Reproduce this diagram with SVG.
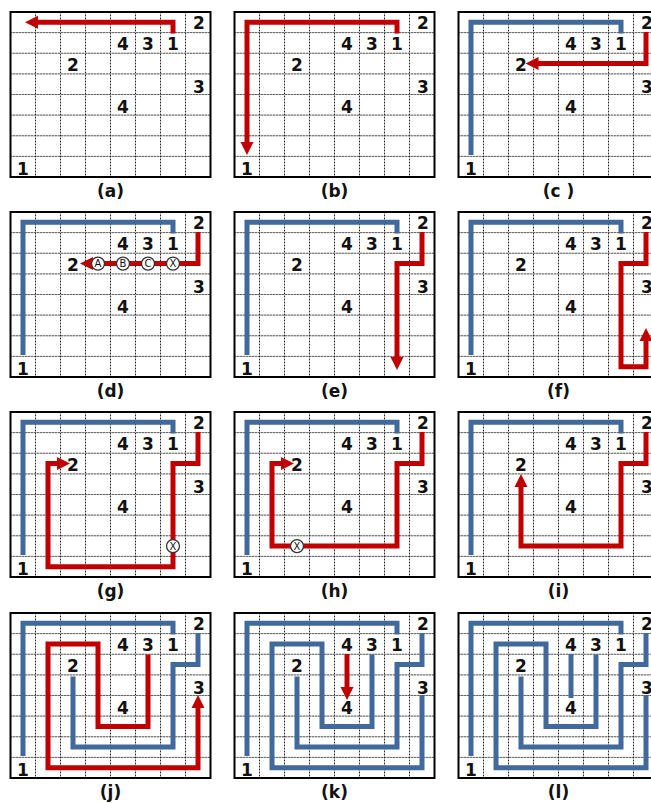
<svg xmlns="http://www.w3.org/2000/svg" xmlns:xlink="http://www.w3.org/1999/xlink" width="651" height="803" viewBox="0 0 651 803">
<style>
.gb{stroke:#a8a8a8;stroke-width:1;fill:none}
.gd{stroke:#222;stroke-width:1;stroke-dasharray:1 2;fill:none}
.box{fill:none;stroke:#000;stroke-width:2}
.red{fill:none;stroke:#C00000;stroke-width:5;stroke-linejoin:miter}
.blue{fill:none;stroke:#41699B;stroke-width:5;stroke-linejoin:miter}
.arr{marker-end:url(#ah)}
.num{font-family:"DejaVu Sans","Liberation Sans",sans-serif;font-weight:bold;font-size:17px;fill:#111;text-anchor:middle}
.cap{font-family:"DejaVu Sans","Liberation Sans",sans-serif;font-weight:bold;font-size:17px;fill:#111;text-anchor:middle}
.cc{fill:#fff;stroke:#333;stroke-width:1.3}
.ct{font-family:"DejaVu Sans","Liberation Sans",sans-serif;font-size:10px;fill:#111;text-anchor:middle}
</style>
<defs>
<marker id="ah" markerUnits="userSpaceOnUse" markerWidth="14" markerHeight="14" refX="2" refY="6.5" orient="auto" overflow="visible"><path d="M0,0 L13,6.5 L0,13 z" fill="#C00000"/></marker>
<g id="grid">
<rect x="0" y="0" width="200" height="165" fill="#fff"/>
<path class="gb" d="M25,0V165M50,0V165M75,0V165M100,0V165M125,0V165M150,0V165M175,0V165M0,20.6H200M0,41.25H200M0,61.9H200M0,82.5H200M0,103.1H200M0,123.75H200M0,144.4H200"/>
<path class="gd" d="M25,0V165M50,0V165M75,0V165M100,0V165M125,0V165M150,0V165M175,0V165M0,20.6H200M0,41.25H200M0,61.9H200M0,82.5H200M0,103.1H200M0,123.75H200M0,144.4H200"/>
<rect class="box" x="0" y="0" width="200" height="165"/>
</g>
</defs>
<rect width="651" height="803" fill="#fff"/>

<g id="panel-a" transform="translate(10.5,12)">
<use xlink:href="#grid"/>
<g id="conn-a"><path class="red arr" d="M162.5,21.5V10.3H25.5"/></g>
<g id="nums-a"><text class="num" x="188.5" y="16.5">2</text><text class="num" x="112.5" y="37.5">4</text><text class="num" x="137.5" y="37.5">3</text><text class="num" x="162.5" y="37.5">1</text><text class="num" x="62.5" y="59">2</text><text class="num" x="188.5" y="80.5">3</text><text class="num" x="112.5" y="100.5">4</text><text class="num" x="12.5" y="162.5">1</text></g>
<text class="cap" x="100" y="184.5">(a)</text>
</g>

<g id="panel-b" transform="translate(234.5,12)">
<use xlink:href="#grid"/>
<g id="conn-b"><path class="red arr" d="M162.5,21.5V10.3H12.5V132"/></g>
<g id="nums-b"><text class="num" x="188.5" y="16.5">2</text><text class="num" x="112.5" y="37.5">4</text><text class="num" x="137.5" y="37.5">3</text><text class="num" x="162.5" y="37.5">1</text><text class="num" x="62.5" y="59">2</text><text class="num" x="188.5" y="80.5">3</text><text class="num" x="112.5" y="100.5">4</text><text class="num" x="12.5" y="162.5">1</text></g>
<text class="cap" x="100" y="184.5">(b)</text>
</g>

<g id="panel-c" transform="translate(458.5,12)">
<use xlink:href="#grid"/>
<g id="conn-c"><path class="blue" d="M162.5,21.5V10.3H12.5V143"/><path class="red arr" d="M187.5,20V51.6H78"/></g>
<g id="nums-c"><text class="num" x="188.5" y="16.5">2</text><text class="num" x="112.5" y="37.5">4</text><text class="num" x="137.5" y="37.5">3</text><text class="num" x="162.5" y="37.5">1</text><text class="num" x="62.5" y="59">2</text><text class="num" x="188.5" y="80.5">3</text><text class="num" x="112.5" y="100.5">4</text><text class="num" x="12.5" y="162.5">1</text></g>
<text class="cap" x="100" y="184.5">(c )</text>
</g>

<g id="panel-d" transform="translate(10.5,212)">
<use xlink:href="#grid"/>
<g id="conn-d"><path class="blue" d="M162.5,21.5V10.3H12.5V143"/><path class="red arr" d="M187.5,20V51.6H80.5"/></g>
<g id="marks-d">
<circle class="cc" cx="87.5" cy="51.6" r="6.5"/><text class="ct" x="87.5" y="55.2">A</text>
<circle class="cc" cx="112.5" cy="51.6" r="6.5"/><text class="ct" x="112.5" y="55.2">B</text>
<circle class="cc" cx="137.5" cy="51.6" r="6.5"/><text class="ct" x="137.5" y="55.2">C</text>
<circle class="cc" cx="162.5" cy="51.6" r="6.5"/><text class="ct" x="162.5" y="55.2">X</text>
</g>
<g id="nums-d"><text class="num" x="188.5" y="16.5">2</text><text class="num" x="112.5" y="37.5">4</text><text class="num" x="137.5" y="37.5">3</text><text class="num" x="162.5" y="37.5">1</text><text class="num" x="62.5" y="59">2</text><text class="num" x="188.5" y="80.5">3</text><text class="num" x="112.5" y="100.5">4</text><text class="num" x="12.5" y="162.5">1</text></g>
<text class="cap" x="100" y="184.5">(d)</text>
</g>

<g id="panel-e" transform="translate(234.5,212)">
<use xlink:href="#grid"/>
<g id="conn-e"><path class="blue" d="M162.5,21.5V10.3H12.5V143"/><path class="red arr" d="M187.5,20V51.6H162.5V147"/></g>
<g id="nums-e"><text class="num" x="188.5" y="16.5">2</text><text class="num" x="112.5" y="37.5">4</text><text class="num" x="137.5" y="37.5">3</text><text class="num" x="162.5" y="37.5">1</text><text class="num" x="62.5" y="59">2</text><text class="num" x="188.5" y="80.5">3</text><text class="num" x="112.5" y="100.5">4</text><text class="num" x="12.5" y="162.5">1</text></g>
<text class="cap" x="100" y="184.5">(e)</text>
</g>

<g id="panel-f" transform="translate(458.5,212)">
<use xlink:href="#grid"/>
<g id="conn-f"><path class="blue" d="M162.5,21.5V10.3H12.5V143"/><path class="red arr" d="M187.5,20V51.6H162.5V154.7H187.5V127"/></g>
<g id="nums-f"><text class="num" x="188.5" y="16.5">2</text><text class="num" x="112.5" y="37.5">4</text><text class="num" x="137.5" y="37.5">3</text><text class="num" x="162.5" y="37.5">1</text><text class="num" x="62.5" y="59">2</text><text class="num" x="188.5" y="80.5">3</text><text class="num" x="112.5" y="100.5">4</text><text class="num" x="12.5" y="162.5">1</text></g>
<text class="cap" x="100" y="184.5">(f)</text>
</g>

<g id="panel-g" transform="translate(10.5,412)">
<use xlink:href="#grid"/>
<g id="conn-g"><path class="blue" d="M162.5,21.5V10.3H12.5V143"/><path class="red arr" d="M187.5,20V51.6H162.5V154.7H37.5V51.6H48.5"/></g>
<g id="marks-g"><circle class="cc" cx="162.5" cy="134.1" r="6.5"/><text class="ct" x="162.5" y="137.7">X</text></g>
<g id="nums-g"><text class="num" x="188.5" y="16.5">2</text><text class="num" x="112.5" y="37.5">4</text><text class="num" x="137.5" y="37.5">3</text><text class="num" x="162.5" y="37.5">1</text><text class="num" x="62.5" y="59">2</text><text class="num" x="188.5" y="80.5">3</text><text class="num" x="112.5" y="100.5">4</text><text class="num" x="12.5" y="162.5">1</text></g>
<text class="cap" x="100" y="184.5">(g)</text>
</g>

<g id="panel-h" transform="translate(234.5,412)">
<use xlink:href="#grid"/>
<g id="conn-h"><path class="blue" d="M162.5,21.5V10.3H12.5V143"/><path class="red arr" d="M187.5,20V51.6H162.5V134.1H37.5V51.6H48.5"/></g>
<g id="marks-h"><circle class="cc" cx="62.5" cy="134.1" r="6.5"/><text class="ct" x="62.5" y="137.7">X</text></g>
<g id="nums-h"><text class="num" x="188.5" y="16.5">2</text><text class="num" x="112.5" y="37.5">4</text><text class="num" x="137.5" y="37.5">3</text><text class="num" x="162.5" y="37.5">1</text><text class="num" x="62.5" y="59">2</text><text class="num" x="188.5" y="80.5">3</text><text class="num" x="112.5" y="100.5">4</text><text class="num" x="12.5" y="162.5">1</text></g>
<text class="cap" x="100" y="184.5">(h)</text>
</g>

<g id="panel-i" transform="translate(458.5,412)">
<use xlink:href="#grid"/>
<g id="conn-i"><path class="blue" d="M162.5,21.5V10.3H12.5V143"/><path class="red arr" d="M187.5,20V51.6H162.5V134.1H62.5V73"/></g>
<g id="nums-i"><text class="num" x="188.5" y="16.5">2</text><text class="num" x="112.5" y="37.5">4</text><text class="num" x="137.5" y="37.5">3</text><text class="num" x="162.5" y="37.5">1</text><text class="num" x="62.5" y="59">2</text><text class="num" x="188.5" y="80.5">3</text><text class="num" x="112.5" y="100.5">4</text><text class="num" x="12.5" y="162.5">1</text></g>
<text class="cap" x="100" y="184.5">(i)</text>
</g>

<g id="panel-j" transform="translate(10.5,613)">
<use xlink:href="#grid"/>
<g id="conn-j"><path class="blue" d="M162.5,21.5V10.3H12.5V143"/><path class="blue" d="M187.5,20V51.6H162.5V134.1H62.5V63.5"/><path class="red arr" d="M137.5,41.5V113.4H87.5V30.9H37.5V154.7H187.5V93"/></g>
<g id="nums-j"><text class="num" x="188.5" y="16.5">2</text><text class="num" x="112.5" y="37.5">4</text><text class="num" x="137.5" y="37.5">3</text><text class="num" x="162.5" y="37.5">1</text><text class="num" x="62.5" y="59">2</text><text class="num" x="188.5" y="80.5">3</text><text class="num" x="112.5" y="100.5">4</text><text class="num" x="12.5" y="162.5">1</text></g>
<text class="cap" x="100" y="184.5">(j)</text>
</g>

<g id="panel-k" transform="translate(234.5,613)">
<use xlink:href="#grid"/>
<g id="conn-k"><path class="blue" d="M162.5,21.5V10.3H12.5V143"/><path class="blue" d="M187.5,20V51.6H162.5V134.1H62.5V63.5"/><path class="blue" d="M137.5,41.5V113.4H87.5V30.9H37.5V154.7H187.5V82"/><path class="red arr" d="M112.5,41V76"/></g>
<g id="nums-k"><text class="num" x="188.5" y="16.5">2</text><text class="num" x="112.5" y="37.5">4</text><text class="num" x="137.5" y="37.5">3</text><text class="num" x="162.5" y="37.5">1</text><text class="num" x="62.5" y="59">2</text><text class="num" x="188.5" y="80.5">3</text><text class="num" x="112.5" y="100.5">4</text><text class="num" x="12.5" y="162.5">1</text></g>
<text class="cap" x="100" y="184.5">(k)</text>
</g>

<g id="panel-l" transform="translate(458.5,613)">
<use xlink:href="#grid"/>
<g id="conn-l"><path class="blue" d="M162.5,21.5V10.3H12.5V143"/><path class="blue" d="M187.5,20V51.6H162.5V134.1H62.5V63.5"/><path class="blue" d="M137.5,41.5V113.4H87.5V30.9H37.5V154.7H187.5V82"/><path class="blue" d="M112.5,41V85"/></g>
<g id="nums-l"><text class="num" x="188.5" y="16.5">2</text><text class="num" x="112.5" y="37.5">4</text><text class="num" x="137.5" y="37.5">3</text><text class="num" x="162.5" y="37.5">1</text><text class="num" x="62.5" y="59">2</text><text class="num" x="188.5" y="80.5">3</text><text class="num" x="112.5" y="100.5">4</text><text class="num" x="12.5" y="162.5">1</text></g>
<text class="cap" x="100" y="184.5">(l)</text>
</g>
</svg>
